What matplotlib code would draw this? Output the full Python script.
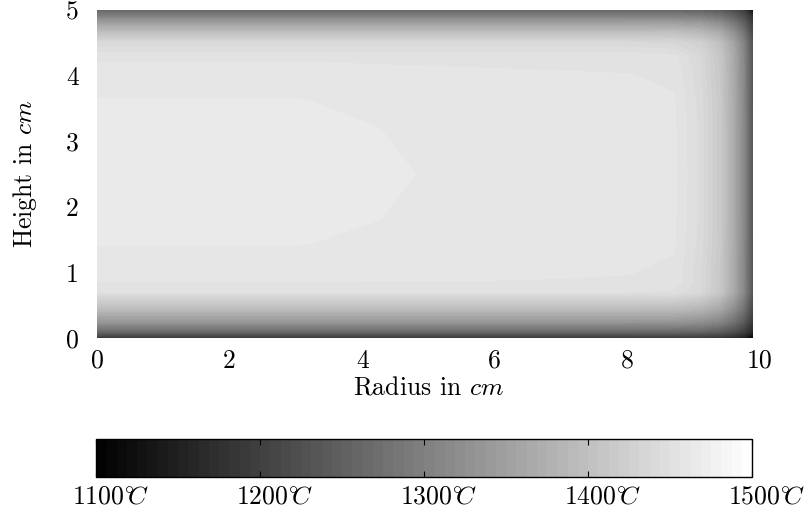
import numpy as np
import matplotlib
matplotlib.use('Agg')
import matplotlib.pyplot as plt
from matplotlib.transforms import blended_transform_factory, ScaledTranslation

# ---------------- data ----------------
RADIUS_CM = [0.0, 3.0, 4.0, 4.8, 6.5, 8.0, 8.7, 9.1, 9.4, 9.6, 9.75, 9.88]
HEIGHT_CM = [0.0, 0.1, 0.25, 0.45, 0.7, 0.85, 1.0, 1.45, 1.8, 2.5, 3.2, 3.6,
             4.0, 4.3, 4.5, 4.65, 4.8, 4.9, 5.0]
# temperature in deg C, one row per height, one column per radius
TEMPERATURE_C = [
    [1188, 1188, 1188, 1188, 1188, 1188, 1187, 1185, 1178, 1166, 1150, 1104],      # z=0.0
    [1265, 1265, 1265, 1265, 1265, 1265, 1264, 1259, 1246, 1225, 1200, 1164],      # z=0.1
    [1335, 1335, 1335, 1335, 1335, 1335, 1334, 1326, 1308, 1277, 1242, 1191],      # z=0.25
    [1395, 1395, 1395, 1395, 1395, 1395, 1394, 1384, 1361, 1323, 1279, 1215],      # z=0.45
    [1450, 1450, 1450, 1450, 1450, 1450, 1449, 1437, 1410, 1364, 1312, 1236],      # z=0.7
    [1456, 1456, 1456, 1456, 1456, 1455.5, 1454, 1440, 1412, 1366, 1313, 1237],    # z=0.85
    [1458, 1458, 1458, 1457.5, 1457, 1456.5, 1455, 1439, 1411, 1365, 1312, 1236],  # z=1.0
    [1463, 1463, 1461, 1460, 1459, 1458, 1457, 1441, 1413, 1367, 1314, 1237],      # z=1.45
    [1464, 1464, 1463, 1461.5, 1460, 1459, 1457.5, 1442, 1414, 1368, 1315, 1238],  # z=1.8
    [1466, 1466, 1465, 1462.5, 1460.5, 1459, 1458, 1442, 1414, 1368, 1315, 1238],  # z=2.5
    [1464, 1464, 1463, 1461.5, 1460, 1459, 1457.5, 1442, 1414, 1368, 1315, 1238],  # z=3.2
    [1463, 1463, 1461, 1460, 1459, 1458, 1457, 1441, 1413, 1367, 1314, 1237],      # z=3.6
    [1459, 1459, 1458, 1457.5, 1457, 1456.5, 1455, 1439, 1411, 1365, 1312, 1236],  # z=4.0
    [1455, 1455, 1455, 1455, 1454.5, 1454, 1452, 1437, 1410, 1364, 1311, 1236],    # z=4.3
    [1438, 1438, 1438, 1438, 1438, 1438, 1436, 1425, 1399, 1355, 1305, 1231],      # z=4.5
    [1402, 1402, 1402, 1402, 1402, 1402, 1400, 1391, 1367, 1328, 1283, 1217],      # z=4.65
    [1350, 1350, 1350, 1350, 1350, 1350, 1349, 1341, 1321, 1289, 1252, 1197],      # z=4.8
    [1302, 1302, 1302, 1302, 1302, 1302, 1301, 1295, 1279, 1253, 1222, 1179],      # z=4.9
    [1258, 1258, 1258, 1258, 1258, 1258, 1257, 1252, 1240, 1219, 1196, 1125],      # z=5.0
]
T_MIN, T_MAX = 1100, 1500
N_COLORS = 64
CBAR_TICKS = [1100, 1200, 1300, 1400, 1500]
X_TICKS = [0, 2, 4, 6, 8, 10]
Y_TICKS = [0, 1, 2, 3, 4, 5]

# ---------------- style ----------------
plt.rcParams['font.family'] = ['cmr10', 'DejaVu Serif']
plt.rcParams['mathtext.fontset'] = 'cm'
plt.rcParams['axes.formatter.use_mathtext'] = True
FS = 18.5

W, H = 806, 518
fig = plt.figure(figsize=(W / 100, H / 100), dpi=100)
ax = fig.add_axes([97 / W, 1 - 338 / H, 663 / W, 328 / H])

levels = np.linspace(T_MIN, T_MAX, N_COLORS + 1)
cs = ax.contourf(RADIUS_CM, HEIGHT_CM, np.array(TEMPERATURE_C), levels=levels,
                 cmap='gray', vmin=T_MIN, vmax=T_MAX)

ax.set_xlim(0, 10)
ax.set_ylim(0, 5)
for s in ax.spines.values():
    s.set_visible(False)
ax.set_xticks(X_TICKS)
ax.set_xticklabels([str(t) for t in X_TICKS])
ax.set_yticks(Y_TICKS)
ax.set_yticklabels([str(t) for t in Y_TICKS])
ax.tick_params(axis='x', length=0, pad=8, labelsize=FS)
ax.tick_params(axis='y', length=0, pad=13, labelsize=FS)
ax.set_xlabel(r'Radius in $cm$', fontsize=FS, labelpad=2)
ax.set_ylabel(r'Height in $cm$', fontsize=FS)
ax.yaxis.set_label_coords(-0.088, 0.5)

# ---------------- colorbar ----------------
cax = fig.add_axes([96 / W, 1 - 477 / H, 656 / W, 38 / H])
cb = fig.colorbar(cs, cax=cax, orientation='horizontal')
cb.set_ticks(CBAR_TICKS)
cax.tick_params(axis='x', direction='in', top=True, bottom=True, length=4,
                width=0.8, labelbottom=False)
cb.outline.set_linewidth(1.0)
tr = blended_transform_factory(cax.transData, cax.transAxes) + \
    ScaledTranslation(15 / 100, -20 / 100, fig.dpi_scale_trans)
for t in CBAR_TICKS:
    cax.text(t, 0, r'$%d^{\circ}\!\!C$' % t, transform=tr, ha='center',
             va='center', fontsize=FS)

fig.savefig('out.png', dpi=100)
